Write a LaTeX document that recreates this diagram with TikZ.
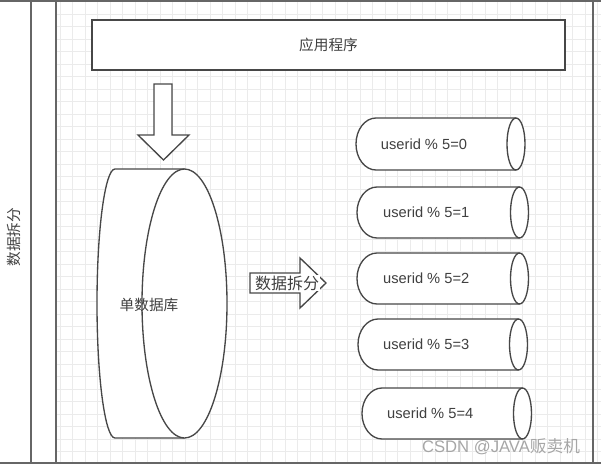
\documentclass[tikz,border=0pt]{standalone}
\usepackage{fontspec}
\setmainfont{Liberation Sans}
\newfontfamily\cjk{Noto Sans CJK SC}
\usetikzlibrary{positioning}

% small horizontal cylinder: left x, ellipse centre x, top y, bottom y, name, text
\newcommand\shard[6]{%
  \draw[shp] (#2,#3) -- ({#1+20},#3)
    arc[start angle=-90, end angle=-270, x radius=20, y radius={(#4-#3)/2}] -- (#2,#4);
  \draw[shp] (#2,{(#3+#4)/2}) ellipse[x radius=9, y radius={(#4-#3)/2}];
  \node[lbl] (#5) at ({(#1+#2)/2-12},{(#3+#4)/2}) {#6};
}

\begin{document}
\begin{tikzpicture}[x=0.75pt, y=-0.75pt,
  gridline/.style={draw=black!8, line width=0.5pt},
  frame/.style={draw=black!60, line width=1.1pt},
  shp/.style={draw=black!72, line width=1pt, fill=white},
  lbl/.style={font=\fontsize{11}{13}\selectfont, text=black!75, inner sep=1pt}
]
\useasboundingbox (0,0) rectangle (601,465);

% grid
\foreach \gx in {60,72.5,...,601} \draw[gridline] (\gx,1) -- (\gx,463);
\foreach \gy in {14,26.5,...,463} \draw[gridline] (56,\gy) -- (601,\gy);

% lanes
\draw[frame] (0,1) -- (601,1);
\draw[frame] (0,463) -- (601,463);
\draw[frame] (31,1) -- (31,463);
\draw[frame] (56,1) -- (56,463);
\draw[frame] (593,1) -- (593,463);
\node[lbl, rotate=90] (lane) at (14,237) {\cjk 数据拆分};

% application
\node[shp, lbl, minimum width=354.75pt, minimum height=37.5pt] (app) at (328.5,45) {\cjk 应用程序};

% down arrow
\draw[shp] (154,84) -- (172,84) -- (172,135) -- (189,135) -- (163.5,160)
  -- (138,135) -- (154,135) -- cycle;

% single database
\draw[shp] (184.5,169) -- (115,169)
  arc[start angle=-90, end angle=-270, x radius=18, y radius=134.5] -- (184.5,438);
\draw[shp] (184.5,303.5) ellipse[x radius=42.5, y radius=134.5];
\node[lbl] (db) at (149,305) {\cjk 单数据库};

% split arrow
\draw[shp] (250,273) -- (300,273) -- (300,258) -- (326,283) -- (300,308)
  -- (300,293) -- (250,293) -- cycle;
\node[lbl, fill=white, inner sep=0.5pt, font=\fontsize{12}{14}\selectfont] (split) at (287,283) {\cjk 数据拆分};

% shards
\shard{356}{516}{118}{170}{s0}{userid \% 5=0}
\shard{357}{519.5}{187}{238}{s1}{userid \% 5=1}
\shard{357}{519.5}{253}{304}{s2}{userid \% 5=2}
\shard{358}{518.5}{319}{370}{s3}{userid \% 5=3}
\shard{362}{522.5}{388}{439}{s4}{userid \% 5=4}

% watermark
\node[text=black!35, font=\fontsize{12.5}{14}\selectfont, inner sep=0pt] (mark) at (501,447) {CSDN @JAVA{\cjk 贩卖机}};
\end{tikzpicture}
\end{document}
